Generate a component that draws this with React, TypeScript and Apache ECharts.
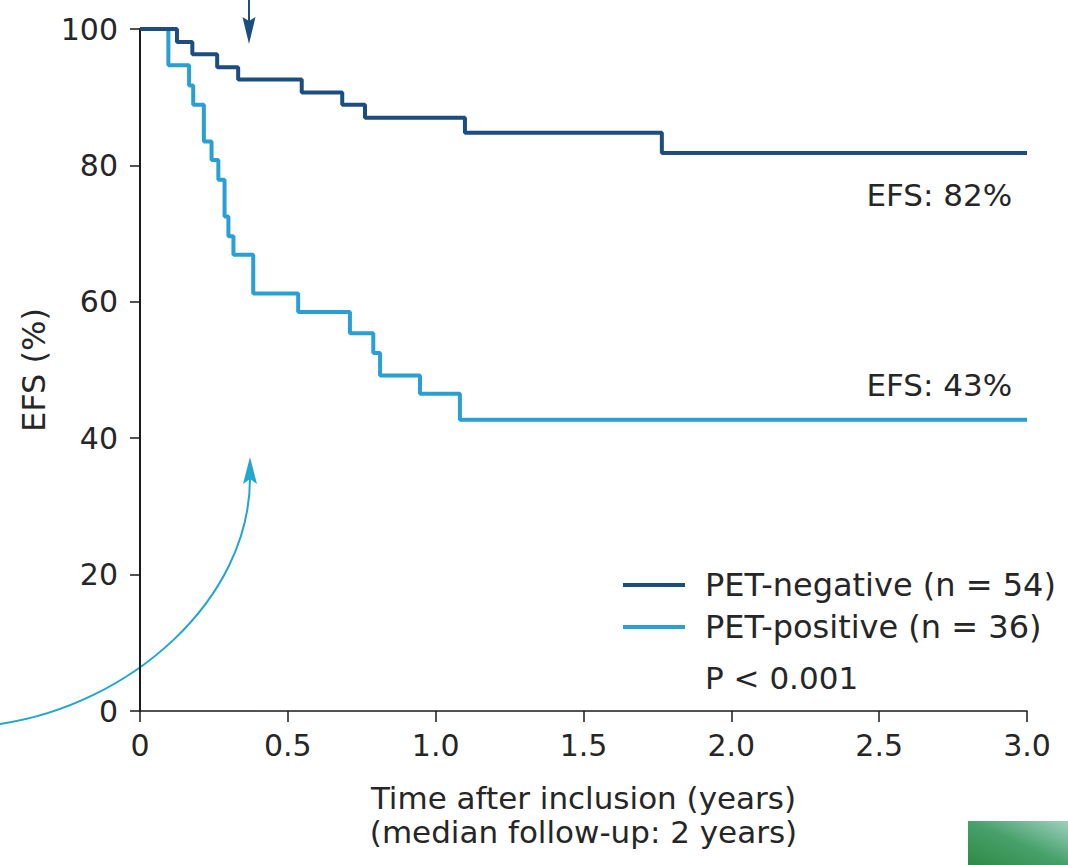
import React, { useEffect, useRef } from "react";
import * as echarts from "echarts";

// ---- Data ----
const negTimes = [0, 0.125, 0.177, 0.261, 0.332, 0.547, 0.684, 0.761, 1.099, 1.765, 3.0];
const negValues = [100, 98.1, 96.3, 94.4, 92.6, 90.7, 88.9, 87.0, 84.8, 81.8, 81.8];

const posTimes = [0, 0.096, 0.166, 0.18, 0.216, 0.242, 0.265, 0.286, 0.299, 0.316, 0.383, 0.535, 0.71, 0.789, 0.812, 0.947, 1.082, 3.0];
const posValues = [100, 94.7, 91.7, 88.9, 83.5, 80.8, 77.9, 72.5, 69.6, 66.9, 61.2, 58.5, 55.4, 52.5, 49.2, 46.5, 42.7, 42.7];

const seriesNames = ["PET-negative (n = 54)", "PET-positive (n = 36)"];
const efsLabels = ["EFS: 82%", "EFS: 43%"];
const pValueText = "P < 0.001";
const xTitleLines = ["Time after inclusion (years)", "(median follow-up: 2 years)"];
const yTitle = "EFS (%)";

const FONT = "DejaVu Sans";
const DARK = "#1b4e7e";
const LIGHT = "#2a9fd6";
const ARROW_CYAN = "#22a5cf";
const TEXT = "#262626";
const AXIS = "#1a1a1a";

export default function App() {
  const ref = useRef<HTMLDivElement>(null);

  useEffect(() => {
    if (!ref.current) return;
    const chart = echarts.init(ref.current, null, { renderer: "svg" });

    const option: any = {
      animation: false,
      backgroundColor: "#ffffff",
      textStyle: { fontFamily: FONT },
      grid: { left: 140, right: 41, top: 29, bottom: 154, containLabel: false },
      xAxis: {
        type: "value",
        min: 0,
        max: 3,
        interval: 0.5,
        axisLine: { show: true, onZero: false, lineStyle: { color: AXIS, width: 1.5 } },
        axisTick: { show: true, length: 11, lineStyle: { color: AXIS, width: 1.5 } },
        axisLabel: {
          fontSize: 30,
          fontFamily: FONT,
          color: TEXT,
          margin: 19,
          formatter: (v: number) => (v === 0 ? "0" : v.toFixed(1)),
        },
        splitLine: { show: false },
        name: xTitleLines.join("\n"),
        nameLocation: "middle",
        nameGap: 70,
        nameTextStyle: { fontSize: 31, fontFamily: FONT, lineHeight: 34, color: TEXT },
      },
      yAxis: {
        type: "value",
        min: 0,
        max: 100,
        interval: 20,
        axisLine: { show: true, onZero: false, lineStyle: { color: AXIS, width: 2 } },
        axisTick: { show: true, length: 10, lineStyle: { color: AXIS, width: 1.5 } },
        axisLabel: { fontSize: 30, fontFamily: FONT, color: TEXT, margin: 22 },
        splitLine: { show: false },
        name: yTitle,
        nameLocation: "middle",
        nameRotate: 90,
        nameGap: 86,
        nameTextStyle: { fontSize: 32, fontFamily: FONT, color: TEXT },
      },
      legend: {
        data: [seriesNames[0], seriesNames[1]],
        orient: "vertical",
        left: 618,
        top: 559,
        itemWidth: 62,
        itemHeight: 4,
        itemGap: 0,
        icon: "rect",
        selectedMode: false,
        textStyle: { fontSize: 32, fontFamily: FONT, color: TEXT, lineHeight: 42, padding: [0, 0, 0, 15] },
      },
      series: [
        {
          name: seriesNames[1],
          type: "line",
          step: "end",
          data: posTimes.map((t, i) => [t, posValues[i]]),
          symbol: "none",
          showSymbol: false,
          lineStyle: { color: LIGHT, width: 4 },
          itemStyle: { color: LIGHT },
          z: 2,
        },
        {
          name: seriesNames[0],
          type: "line",
          step: "end",
          data: negTimes.map((t, i) => [t, negValues[i]]),
          symbol: "none",
          showSymbol: false,
          lineStyle: { color: DARK, width: 4 },
          itemStyle: { color: DARK },
          z: 3,
        },
      ],
    };

    chart.setOption(option);

    const px = (x: number, y: number) => chart.convertToPixel({ gridIndex: 0 }, [x, y]) as number[];
    const lbl82 = px(2.95, 75.7);
    const lbl43 = px(2.95, 47.8);

    chart.setOption({
      graphic: [
        {
          type: "text",
          x: lbl82[0],
          y: lbl82[1],
          style: { text: efsLabels[0], font: `31px '${FONT}'`, fill: TEXT, align: "right", verticalAlign: "middle" },
        },
        {
          type: "text",
          x: lbl43[0],
          y: lbl43[1],
          style: { text: efsLabels[1], font: `31px '${FONT}'`, fill: TEXT, align: "right", verticalAlign: "middle" },
        },
        {
          type: "text",
          x: 705,
          y: 678,
          style: { text: pValueText, font: `31px '${FONT}'`, fill: TEXT, align: "left", verticalAlign: "middle" },
        },
        // top down-arrow
        {
          type: "line",
          shape: { x1: 249, y1: 0, x2: 249, y2: 24 },
          style: { stroke: DARK, lineWidth: 2 },
        },
        {
          type: "polygon",
          shape: { points: [[242.5, 17], [249, 21], [255.5, 17], [249, 44]] },
          style: { fill: DARK },
        },
        // curved cyan arrow
        {
          type: "bezierCurve",
          shape: { x1: 0, y1: 724, cpx1: 130, cpy1: 705, cpx2: 250, cpy2: 600, x2: 250, y2: 478 },
          style: { stroke: ARROW_CYAN, lineWidth: 2, fill: null },
        },
        {
          type: "polygon",
          shape: { points: [[250, 457], [257, 484], [250, 479], [243, 484]] },
          style: { fill: ARROW_CYAN },
        },
        // green image fragment bottom-right
        {
          type: "rect",
          shape: { x: 968, y: 821, width: 100, height: 44 },
          style: {
            fill: new echarts.graphic.LinearGradient(0, 1, 1, 0, [
              { offset: 0, color: "#2f8a45" },
              { offset: 0.5, color: "#47a06a" },
              { offset: 1, color: "#9fd0c0" },
            ]),
          },
        },
      ],
    });

    return () => chart.dispose();
  }, []);

  return (
    <div
      ref={ref}
      style={{ position: "absolute", left: 0, top: 0, width: 1068, height: 865, background: "#fff" }}
    />
  );
}
